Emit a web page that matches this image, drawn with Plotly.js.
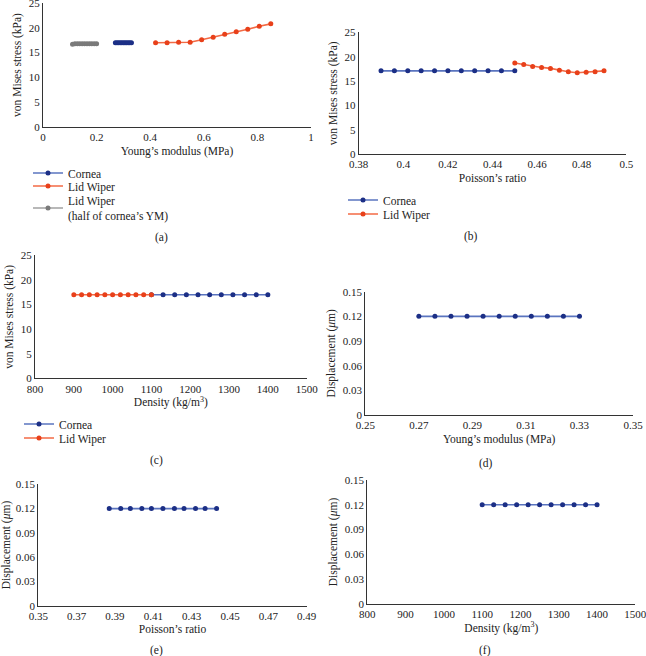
<!DOCTYPE html>
<html>
<head>
<meta charset="utf-8">
<script src="https://cdn.plot.ly/plotly-3.0.1.min.js"></script>
<style>
  html, body { margin: 0; padding: 0; background: #fff; }
  #chart { width: 646px; height: 656px; }
</style>
</head>
<body>
<div id="chart"></div>
<script>
// (a) von Mises stress vs Young's modulus
const ymCornea = [0.27, 0.276, 0.282, 0.288, 0.294, 0.30, 0.306, 0.312, 0.318, 0.324, 0.33];
const ymCorneaStress = [17.0, 17.0, 17.0, 17.0, 17.0, 17.0, 17.0, 17.0, 17.0, 17.0, 17.0];
const ymLid = [0.42, 0.463, 0.506, 0.549, 0.592, 0.635, 0.678, 0.721, 0.764, 0.807, 0.85];
const ymLidStress = [17.0, 17.0, 17.1, 17.1, 17.6, 18.1, 18.7, 19.2, 19.7, 20.3, 20.8];
const ymHalf = [0.11, 0.119, 0.128, 0.137, 0.146, 0.155, 0.164, 0.173, 0.182, 0.191, 0.20];
const ymHalfStress = [16.7, 16.8, 16.8, 16.8, 16.8, 16.8, 16.8, 16.8, 16.8, 16.8, 16.8];

// (b) von Mises stress vs Poisson's ratio
const prCornea = [0.39, 0.396, 0.402, 0.408, 0.414, 0.42, 0.426, 0.432, 0.438, 0.444, 0.45];
const prCorneaStress = [17.1, 17.1, 17.1, 17.1, 17.1, 17.1, 17.1, 17.1, 17.1, 17.1, 17.1];
const prLid = [0.45, 0.454, 0.458, 0.462, 0.466, 0.47, 0.474, 0.478, 0.482, 0.486, 0.49];
const prLidStress = [18.7, 18.4, 18.0, 17.8, 17.6, 17.2, 16.9, 16.7, 16.8, 16.9, 17.1];

// (c) von Mises stress vs density
const denCornea = [1100, 1130, 1160, 1190, 1220, 1250, 1280, 1310, 1340, 1370, 1400];
const denCorneaStress = [17.0, 17.0, 17.0, 17.0, 17.0, 17.0, 17.0, 17.0, 17.0, 17.0, 17.0];
const denLid = [900, 920, 940, 960, 980, 1000, 1020, 1040, 1060, 1080, 1100];
const denLidStress = [17.0, 17.0, 17.0, 17.0, 17.0, 17.0, 17.0, 17.0, 17.0, 17.0, 17.0];

// (d)-(f) cornea displacement
const dispYm = [0.27, 0.276, 0.282, 0.288, 0.294, 0.30, 0.306, 0.312, 0.318, 0.324, 0.33];
const dispYmVal = [0.12, 0.12, 0.12, 0.12, 0.12, 0.12, 0.12, 0.12, 0.12, 0.12, 0.12];
const dispPr = [0.387, 0.393, 0.398, 0.404, 0.409, 0.415, 0.421, 0.426, 0.432, 0.437, 0.443];
const dispPrVal = [0.12, 0.12, 0.12, 0.12, 0.12, 0.12, 0.12, 0.12, 0.12, 0.12, 0.12];
const dispDen = [1100, 1130, 1160, 1190, 1220, 1250, 1280, 1310, 1340, 1370, 1400];
const dispDenVal = [0.12, 0.12, 0.12, 0.12, 0.12, 0.12, 0.12, 0.12, 0.12, 0.12, 0.12];

const panelLabels = ['(a)', '(b)', '(c)', '(d)', '(e)', '(f)'];

const FONT = 'Liberation Serif, Times New Roman, serif';
const BLUE = { line: '#5a74bf', marker: '#1c2f86' };
const RED = { line: '#f36a45', marker: '#e8401a' };
const GREY = { line: '#a0a0a0', marker: '#7a7a7a' };

// one scatter trace with the lighter line and the darker dot
const series = (x, y, name, col, xa, ya, legend) => ({
  x, y, name,
  type: 'scatter',
  mode: 'lines+markers',
  xaxis: xa, yaxis: ya,
  legend: legend || 'legend',
  showlegend: !!legend,
  line: { color: col.line, width: 1.6 },
  marker: { color: col.marker, size: 5 }
});

// every legend entry gets its own legend box so the rows can sit tight like the figure
const data = [
  series(ymCornea, ymCorneaStress, 'Cornea', BLUE, 'x', 'y', 'legend'),
  series(ymLid, ymLidStress, 'Lid Wiper', RED, 'x', 'y', 'legend2'),
  series(ymHalf, ymHalfStress, 'Lid Wiper<br>(half of cornea’s YM)', GREY, 'x', 'y', 'legend3'),
  series(prCornea, prCorneaStress, 'Cornea', BLUE, 'x2', 'y2', 'legend4'),
  series(prLid, prLidStress, 'Lid Wiper', RED, 'x2', 'y2', 'legend5'),
  series(denCornea, denCorneaStress, 'Cornea', BLUE, 'x3', 'y3', 'legend6'),
  series(denLid, denLidStress, 'Lid Wiper', RED, 'x3', 'y3', 'legend7'),
  series(dispYm, dispYmVal, 'Cornea', BLUE, 'x4', 'y4'),
  series(dispPr, dispPrVal, 'Cornea', BLUE, 'x5', 'y5'),
  series(dispDen, dispDenVal, 'Cornea', BLUE, 'x6', 'y6')
];

const axisBase = {
  showline: true,
  linecolor: '#333',
  linewidth: 1,
  showgrid: false,
  zeroline: false,
  ticks: '',
  ticklabeloverflow: 'allow',
  tickfont: { family: FONT, size: 11, color: '#222' },
  fixedrange: true
};

const xAxis = (domain, range, dtick, title, anchor) => Object.assign({}, axisBase, {
  domain, range, dtick, tick0: range[0], anchor,
  title: { text: title, font: { family: FONT, size: 11.5, color: '#222' }, standoff: 4 }
});
const yAxis = (domain, range, dtick, title, anchor) => Object.assign({}, axisBase, {
  domain, range, dtick, tick0: 0, anchor,
  title: { text: title, font: { family: FONT, size: 11.5, color: '#222' }, standoff: 4 }
});

const stressTitle = 'von Mises stress (kPa)';
const dispTitle = 'Displacement (<i>μ</i>m)';
const densTitle = 'Density (kg/m<sup>3</sup>)';

// legend boxes placed by pixel position of the entry's centre
const legendAt = (px, py) => ({
  font: { family: FONT, size: 11.5, color: '#222' },
  bgcolor: 'rgba(0,0,0,0)',
  x: px / 646, y: 1 - py / 656,
  xanchor: 'left',
  yanchor: 'middle',
  itemclick: false,
  itemdoubleclick: false
});

const layout = {
  width: 646,
  height: 656,
  margin: { l: 0, r: 0, t: 0, b: 0 },
  paper_bgcolor: '#fff',
  plot_bgcolor: '#fff',
  font: { family: FONT, color: '#222' },
  xaxis: xAxis([0.0666, 0.4814], [0, 1], 0.2, 'Young’s modulus (MPa)', 'y'),
  yaxis: yAxis([0.8064, 0.9954], [0, 25], 5, stressTitle, 'x'),
  xaxis2: xAxis([0.5553, 0.9695], [0.38, 0.5], 0.02, 'Poisson’s ratio', 'y2'),
  yaxis2: yAxis([0.7648, 0.9508], [0, 25], 5, stressTitle, 'x2'),
  xaxis3: xAxis([0.0542, 0.4747], [800, 1500], 100, densTitle, 'y3'),
  yaxis3: yAxis([0.4233, 0.6107], [0, 25], 5, stressTitle, 'x3'),
  xaxis4: xAxis([0.5655, 0.9799], [0.25, 0.35], 0.02, 'Young’s modulus (MPa)', 'y4'),
  yaxis4: yAxis([0.3674, 0.5553], [0, 0.15], 0.03, dispTitle, 'x4'),
  xaxis5: xAxis([0.0593, 0.4748], [0.35, 0.49], 0.02, 'Poisson’s ratio', 'y5'),
  yaxis5: yAxis([0.0767, 0.2617], [0, 0.15], 0.03, dispTitle, 'x5'),
  xaxis6: xAxis([0.5686, 0.9835], [800, 1500], 100, densTitle, 'y6'),
  yaxis6: yAxis([0.0793, 0.2683], [0, 0.15], 0.03, dispTitle, 'x6'),
  legend: legendAt(28, 173),
  legend2: legendAt(28, 186),
  legend3: legendAt(28, 208),
  legend4: legendAt(343, 200),
  legend5: legendAt(343, 214),
  legend6: legendAt(19, 424),
  legend7: legendAt(19, 438),
  annotations: [
    [161, 237], [471, 236], [156, 460], [486, 463], [156, 650], [485, 650]
  ].map((p, i) => ({
    text: panelLabels[i],
    xref: 'paper', yref: 'paper',
    x: p[0] / 646, y: 1 - p[1] / 656,
    xanchor: 'center', yanchor: 'middle',
    showarrow: false,
    font: { family: FONT, size: 11.5, color: '#222' }
  }))
};

Plotly.newPlot('chart', data, layout, { displayModeBar: false, staticPlot: true });
</script>
</body>
</html>
